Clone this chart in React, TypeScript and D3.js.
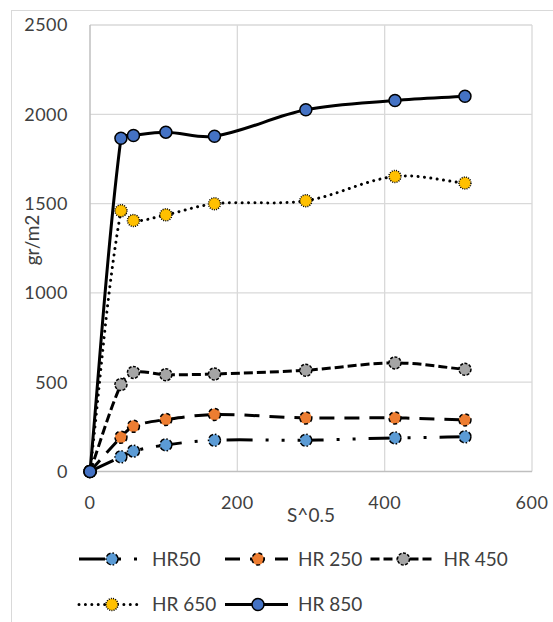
import { useEffect, useRef } from 'react';
import * as d3 from 'd3';

// S^0.5 values shared by all series
const xValues = [0, 42, 59, 103, 169, 293, 414, 509];
const hr50 = [0, 82, 114, 149, 175, 175, 188, 194];
const hr250 = [0, 192, 253, 291, 319, 300, 300, 289];
const hr450 = [0, 487, 555, 542, 546, 567, 608, 572];
const hr650 = [0, 1460, 1405, 1437, 1499, 1516, 1652, 1615];
const hr850 = [0, 1866, 1881, 1900, 1877, 2025, 2077, 2101];
const seriesNames = ['HR50', 'HR 250', 'HR 450', 'HR 650', 'HR 850'];
const xTicks = [0, 200, 400, 600];
const yTicks = [0, 500, 1000, 1500, 2000, 2500];

const styles = [
  { fill: '#5B9BD5', dash: '26 13 3 13 3 13', cap: 'butt', markerDash: '5 2 1.5 2' },
  { fill: '#ED7D31', dash: '15 10', cap: 'butt', markerDash: '4 3' },
  { fill: '#A5A5A5', dash: '9 4', cap: 'butt', markerDash: '3 1.5' },
  { fill: '#FFC000', dash: '0.01 6.4', cap: 'round', markerDash: '1 1.2' },
  { fill: '#4472C4', dash: null, cap: 'butt', markerDash: null },
];

const FONT = 'Lato, sans-serif';

// Excel-like smoothing: tangent along neighbour chord, arm = 1/3 of each segment
const smoothPath = (pts: [number, number][]) => {
  const p = d3.path();
  const n = pts.length;
  const tan = pts.map((_, i) => {
    const a = pts[Math.max(i - 1, 0)];
    const b = pts[Math.min(i + 1, n - 1)];
    const dx = b[0] - a[0];
    const dy = b[1] - a[1];
    const len = Math.hypot(dx, dy) || 1;
    return [dx / len, dy / len];
  });
  p.moveTo(pts[0][0], pts[0][1]);
  for (let i = 0; i < n - 1; i++) {
    const [x0, y0] = pts[i];
    const [x1, y1] = pts[i + 1];
    const arm = Math.hypot(x1 - x0, y1 - y0) / 3;
    p.bezierCurveTo(
      x0 + tan[i][0] * arm, y0 + tan[i][1] * arm,
      x1 - tan[i + 1][0] * arm, y1 - tan[i + 1][1] * arm,
      x1, y1
    );
  }
  return p.toString();
};

const App = () => {
  const svgRef = useRef<SVGSVGElement>(null);
  const width = 553;
  const height = 622;

  useEffect(() => {
    const svg = d3.select(svgRef.current);
    svg.selectAll('*').remove();

    const x = d3.scaleLinear().domain([0, 600]).range([90, 532]);
    const y = d3.scaleLinear().domain([0, 2500]).range([471.5, 25]);

    // outer chart border
    svg.append('rect')
      .attr('x', 11.5).attr('y', 10.5)
      .attr('width', 700).attr('height', 700)
      .attr('fill', 'white')
      .attr('stroke', '#d9d9d9').attr('stroke-width', 1);

    // gridlines
    svg.append('g').selectAll('line')
      .data(yTicks.filter(d => d > 0))
      .enter().append('line')
      .attr('x1', x(0)).attr('x2', x(600))
      .attr('y1', d => y(d)).attr('y2', d => y(d))
      .attr('stroke', '#d9d9d9').attr('stroke-width', 1.3);

    svg.append('g').selectAll('line')
      .data(xTicks.filter(d => d > 0))
      .enter().append('line')
      .attr('x1', d => x(d)).attr('x2', d => x(d))
      .attr('y1', y(0)).attr('y2', y(2500))
      .attr('stroke', '#d9d9d9').attr('stroke-width', 1.3);

    // axis lines
    svg.append('line')
      .attr('x1', x(0)).attr('x2', x(600)).attr('y1', y(0)).attr('y2', y(0))
      .attr('stroke', '#bfbfbf').attr('stroke-width', 1.5);
    svg.append('line')
      .attr('x1', x(0)).attr('x2', x(0)).attr('y1', y(0)).attr('y2', y(2500))
      .attr('stroke', '#bfbfbf').attr('stroke-width', 1.5);

    // tick labels
    svg.append('g').selectAll('text')
      .data(yTicks)
      .enter().append('text')
      .attr('x', 68).attr('y', d => y(d) + 6.3)
      .attr('text-anchor', 'end')
      .attr('font-family', FONT).attr('font-size', 18)
      .attr('letter-spacing', 0.5)
      .attr('fill', '#404040')
      .text(d => d);

    svg.append('g').selectAll('text')
      .data(xTicks)
      .enter().append('text')
      .attr('x', d => x(d)).attr('y', 509)
      .attr('text-anchor', 'middle')
      .attr('font-family', FONT).attr('font-size', 18)
      .attr('letter-spacing', 0.5)
      .attr('fill', '#404040')
      .text(d => d);

    // axis titles
    svg.append('text')
      .attr('x', 311).attr('y', 522)
      .attr('text-anchor', 'middle')
      .attr('font-family', FONT).attr('font-size', 19)
      .attr('fill', '#404040')
      .text('S^0.5');

    svg.append('text')
      .attr('transform', 'translate(39, 240) rotate(-90)')
      .attr('text-anchor', 'middle')
      .attr('font-family', FONT).attr('font-size', 19)
      .attr('fill', '#404040')
      .text('gr/m2');

    // series
    const allSeries = [hr50, hr250, hr450, hr650, hr850];

    allSeries.forEach((values, si) => {
      const st = styles[si];
      const pts = values.map((v, i) => [x(xValues[i]), y(v)] as [number, number]);
      const g = svg.append('g');
      g.append('path')
        .attr('d', smoothPath(pts))
        .attr('fill', 'none')
        .attr('stroke', '#000')
        .attr('stroke-width', 3)
        .attr('stroke-linecap', st.cap)
        .attr('stroke-dasharray', st.dash);

      g.selectAll('circle')
        .data(values)
        .enter().append('circle')
        .attr('cx', (d, i) => x(xValues[i]))
        .attr('cy', d => y(d))
        .attr('r', 6)
        .attr('fill', st.fill)
        .attr('stroke', '#000')
        .attr('stroke-width', 1.5)
        .attr('stroke-dasharray', st.markerDash);
    });

    // legend
    const colX = [79, 225, 370.5];
    const rowY = [559, 604.5];
    seriesNames.forEach((name, i) => {
      const st = styles[i];
      const lx = colX[i % 3];
      const ly = rowY[Math.floor(i / 3)];
      const g = svg.append('g');
      g.append('line')
        .attr('x1', lx).attr('x2', lx + 63)
        .attr('y1', ly).attr('y2', ly)
        .attr('stroke', '#000').attr('stroke-width', 3)
        .attr('stroke-linecap', st.cap)
        .attr('stroke-dasharray', st.dash);
      g.append('circle')
        .attr('cx', lx + 33).attr('cy', ly).attr('r', 6)
        .attr('fill', st.fill)
        .attr('stroke', '#000').attr('stroke-width', 1.5)
        .attr('stroke-dasharray', st.markerDash);
      g.append('text')
        .attr('x', lx + 73).attr('y', ly + 6.5)
        .attr('font-family', FONT).attr('font-size', 19)
        .attr('fill', '#404040')
        .text(name);
    });
  }, []);

  return (
    <svg
      ref={svgRef}
      width={width}
      height={height}
      style={{ position: 'absolute', left: 0, top: 0, background: 'white' }}
    />
  );
};

export default App;
